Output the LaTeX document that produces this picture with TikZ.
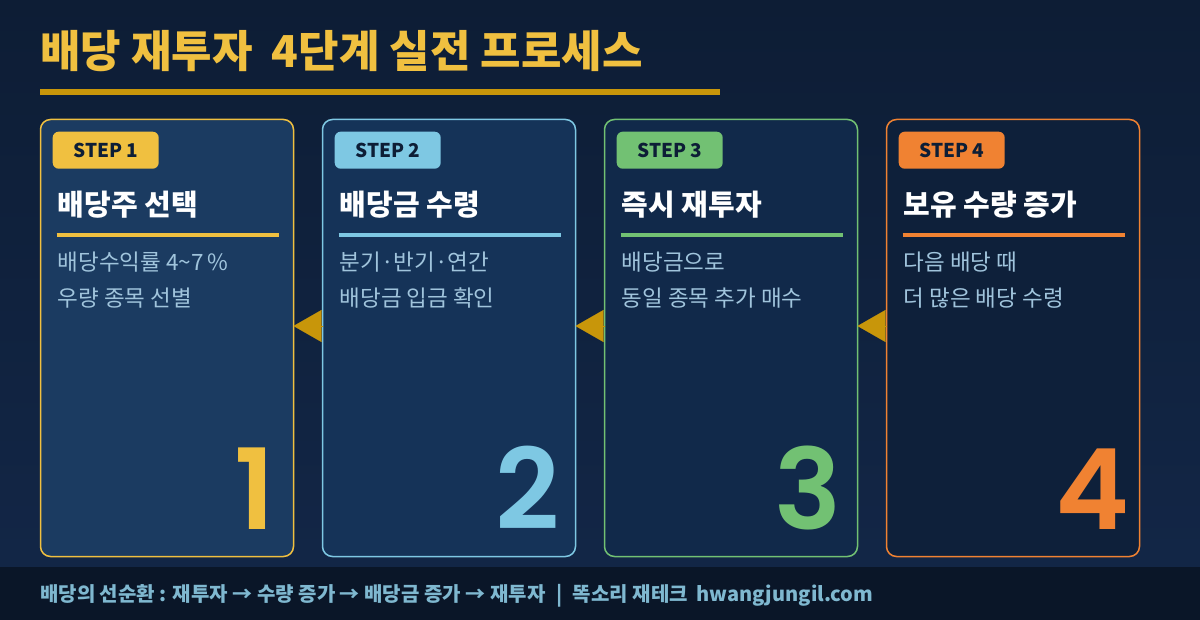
\documentclass[tikz,border=0pt]{standalone}
\usepackage{fontspec}
\setmainfont{Noto Sans CJK KR}
\newfontfamily\numfont{Poppins SemiBold}
\usepackage{tikz}
\usetikzlibrary{
	positioning,
	calc,
	arrows.meta
}
\definecolor{NightTop}{HTML}{0D1D35}
\definecolor{NightBottom}{HTML}{132748}
\definecolor{FootBar}{HTML}{0A1628}
\definecolor{FootText}{HTML}{7FB8D0}
\definecolor{TitleGold}{HTML}{F0C040}
\definecolor{DeepGold}{HTML}{C8960A}
\definecolor{StepGold}{HTML}{F0C040}
\definecolor{StepSky}{HTML}{7EC8E3}
\definecolor{StepGreen}{HTML}{72C173}
\definecolor{StepOrange}{HTML}{F08232}
\definecolor{CardA}{HTML}{1B3B61}
\definecolor{CardB}{HTML}{153358}
\definecolor{CardC}{HTML}{11294A}
\definecolor{CardD}{HTML}{0E203A}
\definecolor{BodyText}{HTML}{A0C4DC}
\definecolor{BadgeText}{HTML}{0D1E36}

\tikzset{
	card/.style={
		draw,
		line width=1.5pt,
		rounded corners=10pt,
		minimum width=253pt,
		minimum height=437pt,
		inner sep=0pt,
		outer sep=0pt
	},
	badge/.style={
		rounded corners=6pt,
		minimum width=106pt,
		minimum height=37pt,
		inner sep=0pt,
		text=BadgeText,
		font=\fontsize{19}{22}\selectfont\bfseries
	},
	steptitle/.style={
		anchor=base west,
		inner sep=0pt,
		text=white,
		font=\fontsize{29}{33}\selectfont\bfseries
	},
	stepline/.style={
		anchor=base west,
		inner sep=0pt,
		text=BodyText,
		font=\fontsize{22.5}{26}\selectfont
	},
	bignum/.style={
		anchor=base east,
		inner sep=0pt,
		font=\fontsize{112}{112}\selectfont\numfont
	},
	steprule/.style={line width=4pt},
	flowarrow/.style={
		DeepGold,
		line width=0.1pt,
		-{Triangle[length=28pt,width=32pt]}
	}
}

\begin{document}
\begin{tikzpicture}[x=1pt,y=-1pt]

	\useasboundingbox (0,0) rectangle (1200,620);
	\shade[top color=NightTop,bottom color=NightBottom] (0,0) rectangle (1200,620);
	\fill[FootBar] (0,567) rectangle (1200,620);

	% title
	\node[
	anchor=base west,
	inner sep=0pt,
	text=TitleGold,
	font=\fontsize{44}{48}\selectfont\bfseries
	]
	(title)
	at (40,68)
	{배당 재투자\hspace{9pt} 4단계 실전 프로세스};
	\fill[DeepGold] (40,89) rectangle (720,95);

	% cards
	\node[card, draw=StepGold, fill=CardA] (card1) at (167,338) {};
	\node[card, draw=StepSky, fill=CardB, right=29pt of card1] (card2) {};
	\node[card, draw=StepGreen, fill=CardC, right=29pt of card2] (card3) {};
	\node[card, draw=StepOrange, fill=CardD, right=29pt of card3] (card4) {};

	% badges
	\node[badge, fill=StepGold, below right=12pt and 12pt of card1.north west] (badge1) {STEP 1};
	\node[badge, fill=StepSky, below right=12pt and 12pt of card2.north west] (badge2) {STEP 2};
	\node[badge, fill=StepGreen, below right=12pt and 12pt of card3.north west] (badge3) {STEP 3};
	\node[badge, fill=StepOrange, below right=12pt and 12pt of card4.north west] (badge4) {STEP 4};

	% step 1
	\node[steptitle] (head1) at ([shift={(17,96)}]card1.north west) {배당주 선택};
	\draw[steprule, StepGold] ([shift={(16,116)}]card1.north west) -- ([shift={(-15,116)}]card1.north east);
	\node[stepline] (text1a) at ([shift={(17,151)}]card1.north west) {배당수익률 4\textasciitilde7\,\%};
	\node[stepline] (text1b) at ([shift={(17,187)}]card1.north west) {우량 종목 선별};
	\node[bignum, text=StepGold] (num1) at ([shift={(-18,-27)}]card1.south east) {1};

	% step 2
	\node[steptitle] (head2) at ([shift={(17,96)}]card2.north west) {배당금 수령};
	\draw[steprule, StepSky] ([shift={(16,116)}]card2.north west) -- ([shift={(-15,116)}]card2.north east);
	\node[stepline] (text2a) at ([shift={(17,151)}]card2.north west) {분기·반기·연간};
	\node[stepline] (text2b) at ([shift={(17,187)}]card2.north west) {배당금 입금 확인};
	\node[bignum, text=StepSky] (num2) at ([shift={(-16,-27)}]card2.south east) {2};

	% step 3
	\node[steptitle] (head3) at ([shift={(17,96)}]card3.north west) {즉시 재투자};
	\draw[steprule, StepGreen] ([shift={(16,116)}]card3.north west) -- ([shift={(-15,116)}]card3.north east);
	\node[stepline] (text3a) at ([shift={(17,151)}]card3.north west) {배당금으로};
	\node[stepline] (text3b) at ([shift={(17,187)}]card3.north west) {동일 종목 추가 매수};
	\node[bignum, text=StepGreen] (num3) at ([shift={(-16,-27)}]card3.south east) {3};

	% step 4
	\node[steptitle] (head4) at ([shift={(17,96)}]card4.north west) {보유 수량 증가};
	\draw[steprule, StepOrange] ([shift={(16,116)}]card4.north west) -- ([shift={(-15,116)}]card4.north east);
	\node[stepline] (text4a) at ([shift={(17,151)}]card4.north west) {다음 배당 때};
	\node[stepline] (text4b) at ([shift={(17,187)}]card4.north west) {더 많은 배당 수령};
	\node[bignum, text=StepOrange] (num4) at ([shift={(-10,-27)}]card4.south east) {4};

	% arrows between cards
	\draw[flowarrow] ([yshift=12pt]card2.west) -- ([yshift=12pt]card1.east);
	\draw[flowarrow] ([yshift=12pt]card3.west) -- ([yshift=12pt]card2.east);
	\draw[flowarrow] ([yshift=12pt]card4.west) -- ([yshift=12pt]card3.east);

	% footer
	\node[
	anchor=base west,
	inner sep=0pt,
	text=FootText,
	font=\fontsize{20}{22}\selectfont\bfseries
	]
	(footer)
	at (40,601)
	{배당의 선순환 : 재투자 → 수량 증가 → 배당금 증가 → 재투자\hspace{6pt} |\hspace{6pt} 똑소리 재테크\hspace{4pt} hwangjungil.com};

\end{tikzpicture}
\end{document}
